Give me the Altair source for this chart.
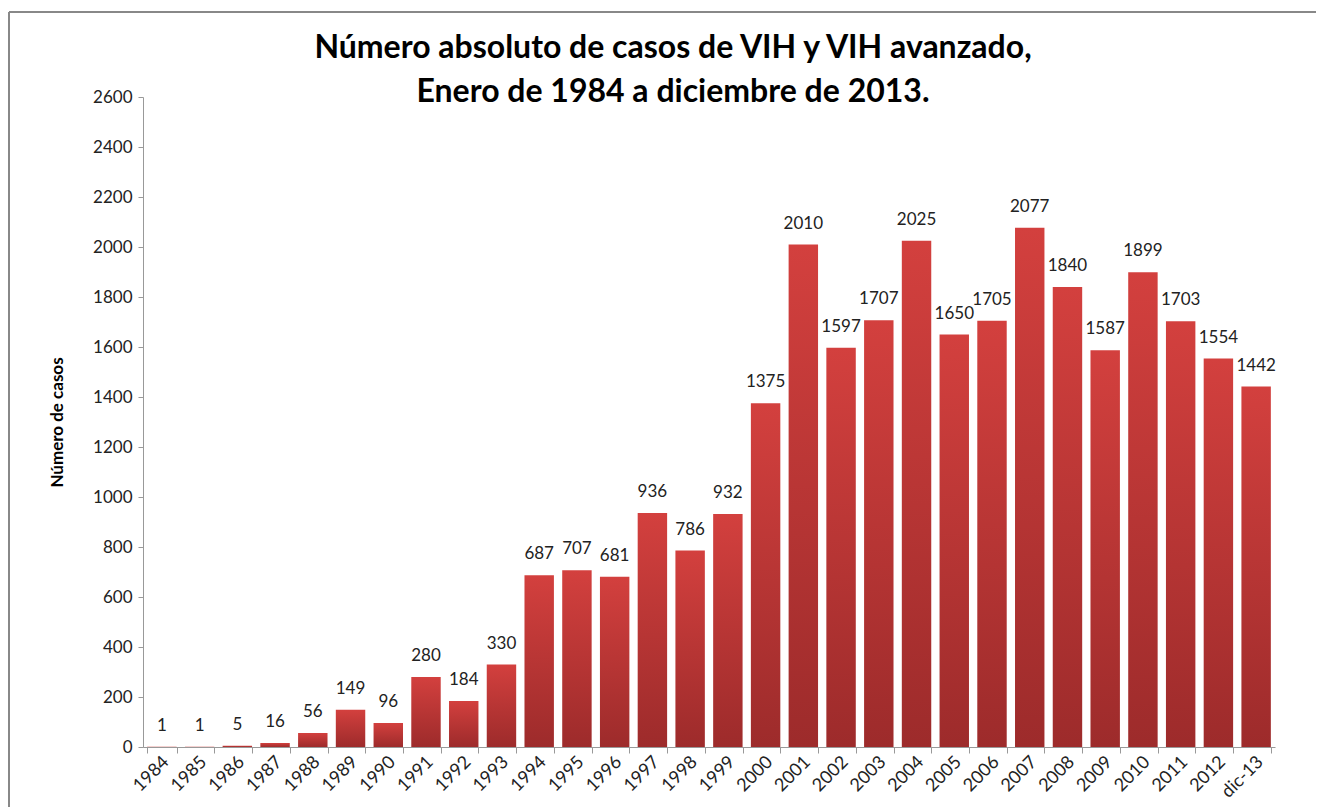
import altair as alt
import pandas as pd

years = ["1984", "1985", "1986", "1987", "1988", "1989", "1990", "1991", "1992", "1993",
         "1994", "1995", "1996", "1997", "1998", "1999", "2000", "2001", "2002", "2003",
         "2004", "2005", "2006", "2007", "2008", "2009", "2010", "2011", "2012", "dic-13"]
casos = [1, 1, 5, 16, 56, 149, 96, 280, 184, 330,
         687, 707, 681, 936, 786, 932, 1375, 2010, 1597, 1707,
         2025, 1650, 1705, 2077, 1840, 1587, 1899, 1703, 1554, 1442]
y_ticks = list(range(0, 2601, 200))
title_lines = ["Número absoluto de casos de VIH y VIH avanzado,",
               "Enero de 1984 a diciembre de 2013."]

df = pd.DataFrame({"anio": years, "casos": casos})

FONT = "Lato"
W, H = 1132, 650

x_enc = alt.X("anio:N", sort=years, title=None,
              scale=alt.Scale(paddingInner=0.22, paddingOuter=0.11),
              axis=alt.Axis(labelAngle=-45, labelAlign="right", labelBaseline="middle",
                            labelFontSize=18, labelFont=FONT, labelColor="#222",
                            labelPadding=6, tickBand="extent", tickSize=6,
                            domainColor="#999", tickColor="#999", labelOffset=4))
y_enc = alt.Y("casos:Q", title="Número de casos",
              scale=alt.Scale(domain=[0, 2600], nice=False),
              axis=alt.Axis(values=y_ticks, format="d", grid=False, tickSize=5,
                            labelPadding=6,
                            labelFontSize=17, labelFont=FONT, labelColor="#222",
                            domainColor="#999", tickColor="#999",
                            titleFont=FONT, titleFontSize=17, titleFontWeight="bold",
                            titleColor="#000", titleAngle=-90, titleX=-86, titleY=H / 2,
                            titleAlign="center", titleBaseline="middle"))

grad = alt.Gradient(gradient="linear",
                    stops=[alt.GradientStop(color="#d3403e", offset=0),
                           alt.GradientStop(color="#9d2b2b", offset=1)],
                    x1=0, x2=0, y1=0, y2=1)

bars = alt.Chart(df).mark_bar(color=grad).encode(x=x_enc, y=y_enc)

labels = alt.Chart(df).mark_text(baseline="middle", dy=-21, fontSize=17, font=FONT,
                                 color="#222").encode(
    x=alt.X("anio:N", sort=years), y=alt.Y("casos:Q"), text=alt.Text("casos:Q"))

border_left = alt.Chart(df).mark_rule(color="#888", strokeWidth=1.5, clip=False).encode(
    x=alt.value(-134), y=alt.value(-85), y2=alt.value(H + 80))
border_top = alt.Chart(df).mark_rule(color="#888", strokeWidth=1.5, clip=False).encode(
    x=alt.value(-134), x2=alt.value(W + 60), y=alt.value(-85))

t1 = alt.Chart(pd.DataFrame({"t": [title_lines[0]]})).mark_text(
    font=FONT, fontSize=32, fontWeight="bold", color="#000",
    align="center", baseline="middle", clip=False).encode(
    x=alt.value(530), y=alt.value(-49), text="t:N")
t2 = alt.Chart(pd.DataFrame({"t": [title_lines[1]]})).mark_text(
    font=FONT, fontSize=32, fontWeight="bold", color="#000",
    align="center", baseline="middle", clip=False).encode(
    x=alt.value(530), y=alt.value(-5), text="t:N")

chart = alt.layer(border_left, border_top, bars, labels, t1, t2).properties(
    width=W, height=H,
    autosize=alt.AutoSizeParams(type="none"),
    padding={"left": 135, "top": 89, "right": 41, "bottom": 60},
).configure(background="white").configure_view(strokeWidth=0)

chart.save("out.html", embed_options={"renderer": "svg", "actions": False})
